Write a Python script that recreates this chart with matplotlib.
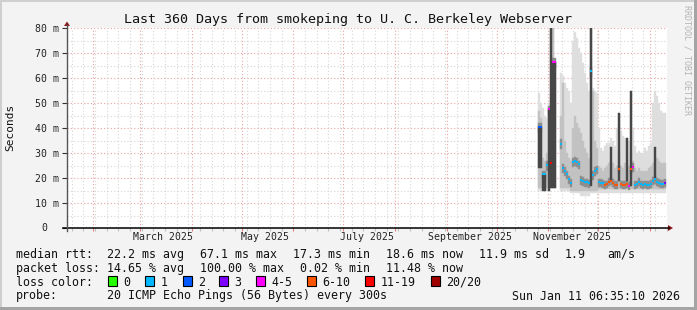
import numpy as np
import matplotlib
matplotlib.use("Agg")
import matplotlib.pyplot as plt
import matplotlib.dates as mdates
from matplotlib.patches import Polygon, Rectangle
from datetime import datetime, timedelta

# ---------------- data ----------------
t_end = datetime(2026, 1, 11, 6, 35, 10)
t_start = t_end - timedelta(days=360)
data_start = datetime(2025, 10, 25, 21, 0)
step_days = 1.2

nan = np.nan
median = [40.5, 40.5, 21.6, 21.6, 25.2, 47.5, 26.1, 66.5, 66.5, nan,
          nan, 33.5, 23.9, 23.0, 21.5, 19.5, 18.0, 26.4, 26.8, 26.4,
          25.5, 19.2, 18.8, 18.3, 18.3, 17.9, 62.9, 21.2, 22.9, 23.5,
          18.3, 18.0, 17.9, 17.2, 17.5, 18.5, 19.0, 18.2, 17.3, 17.3,
          23.6, 17.5, 17.2, 17.2, 17.5, 16.9, 23.5, 24.5, 17.2, 17.5,
          18.4, 17.5, 17.2, 17.5, 17.2, 17.2, 17.8, 19.0, 19.6, 18.5,
          18.0, 17.6, 17.6, 18.2]
loss_class = [2, 2, 1, 1, 1, 4, 6, 4, 4, 0,
              0, 1, 1, 1, 1, 1, 1, 1, 1, 1,
              1, 1, 1, 1, 1, 1, 1, 1, 1, 1,
              1, 1, 1, 5, 5, 5, 5, 5, 5, 5,
              5, 5, 5, 5, 5, 4, 5, 4, 1, 1,
              1, 1, 1, 1, 1, 1, 1, 1, 1, 1,
              1, 1, 1, 3]
light_lo = [15, 15, 15, 15, 15, 15, 16, 16, 16, nan,
            nan, 15, 15, 15, 15, 15, 14, 14, 14, 14,
            14, 13, 13, 13, 13, 13, 14, 14, 14, 14,
            14, 14, 14, 14, 14, 14, 14, 14, 14, 14,
            14, 14, 14, 14, 14, 14, 14, 14, 14, 14,
            14, 14, 14, 14, 14, 14, 14, 14, 14, 14,
            14, 14, 14, 14]
light_hi = [54, 50, 48, 45, 44, 50, 100, 100, 66.5, nan,
            nan, 62, 61, 58, 56, 55, 50, 75, 78.5, 76,
            72, 70, 66, 62, 58, 55, 100, 56, 55, 54,
            40, 32, 31, 33, 34, 34, 36, 35, 33, 40,
            46, 39, 37, 36, 36, 35, 55, 40, 33, 30,
            31, 30, 30, 32, 31, 33, 34, 50, 55, 53,
            50, 47, 46, 46]
mid_lo = [16, 16, 16, 16, 16, 16, 16, 16, 16, nan,
          nan, 16, 16, 16, 16, 16, 15, 15, 15, 15,
          15, 15, 15, 15, 15, 15, 15, 15, 15, 15,
          15.5, 15.5, 15.5, 15.5, 15.5, 15.5, 15.5, 15.5, 15.5, 15.5,
          15.5, 15.5, 15.5, 15.5, 15.5, 15.5, 15.5, 15.5, 15.5, 15.5,
          15.5, 15.5, 15.5, 15.5, 15.5, 15.5, 15.5, 15.5, 15.5, 15.5,
          15.5, 15.5, 15.5, 15.5]
mid_hi = [47, 44, 28, 27, 30, 48, 100, 100, 66.5, nan,
          nan, 45, 58, 35, 30, 28, 27, 40, 45, 42,
          40, 38, 35, 32, 30, 28, 100, 55, 35, 32,
          25, 24, 23, 24, 25, 26, 27, 26, 24, 25,
          30, 25, 24, 26, 26, 25, 30, 27, 24, 23,
          24, 23, 23, 23, 23, 24, 25, 26, 27, 28,
          27, 26, 26, 26]
inner_lo = [38, 38, 19.5, 19.5, 23, 45, 24, 64, 64, nan,
            nan, 31.5, 22, 21, 19.5, 17.5, 16.3, 24.5, 25, 24.5,
            23.5, 17.3, 17, 16.5, 16.5, 16.2, 60, 19.3, 21, 21.5,
            16.5, 16.3, 16.2, 15.6, 15.9, 16.8, 17.2, 16.5, 15.7, 15.7,
            21.5, 15.9, 15.6, 15.6, 15.9, 15.4, 21.5, 22.5, 15.6, 15.9,
            16.7, 15.9, 15.6, 15.9, 15.6, 15.6, 16.1, 17.2, 17.8, 16.8,
            16.3, 16, 16, 16.5]
inner_hi = [42, 42, 23, 23, 27, 49, 28, 68, 68, nan,
            nan, 35.5, 25.5, 24.5, 23, 21, 19.5, 28, 28.5, 28,
            27, 20.7, 20.3, 19.8, 19.8, 19.4, 64.5, 22.7, 24.4, 25,
            19.8, 19.5, 19.4, 18.7, 19, 20, 20.5, 19.7, 18.8, 18.8,
            25.1, 19, 18.7, 18.7, 19, 18.4, 25, 26, 18.7, 19,
            19.9, 19, 18.7, 19, 18.7, 18.7, 19.3, 20.5, 21.1, 20,
            19.5, 19.1, 19.1, 19.7]
spike_lo = [24, 24, 15, 15, nan, 15, 16, 16, 16, nan,
            nan, nan, nan, nan, nan, nan, nan, nan, nan, nan,
            nan, nan, nan, nan, nan, nan, 17, nan, nan, nan,
            nan, nan, nan, nan, nan, nan, 19, nan, nan, nan,
            19, nan, nan, nan, 19, nan, 17, nan, nan, nan,
            nan, nan, nan, nan, nan, nan, nan, nan, 20, nan,
            nan, nan, nan, nan]
spike_hi = [40.5, 40.5, 21.6, 21.6, nan, 47.5, 100, 66.5, 66.5, nan,
            nan, nan, nan, nan, nan, nan, nan, nan, nan, nan,
            nan, nan, nan, nan, nan, nan, 100, nan, nan, nan,
            nan, nan, nan, nan, nan, nan, 32.5, nan, nan, nan,
            46, nan, nan, nan, 36, nan, 55, nan, nan, nan,
            nan, nan, nan, nan, nan, nan, nan, nan, 32.5, nan,
            nan, nan, nan, nan]

loss_labels = ["0", "1", "2", "3", "4-5", "6-10", "11-19", "20/20"]
loss_colors = ["#26ff00", "#00b8ff", "#0059ff", "#7e00ff", "#ff00ff",
               "#ff5500", "#ff0000", "#a10000"]

yticks = [0, 10, 20, 30, 40, 50, 60, 70, 80]
month_labels = ["March 2025", "May 2025", "July 2025", "September 2025", "November 2025"]
month_label_dates = [datetime(2025, 3, 1), datetime(2025, 5, 1), datetime(2025, 7, 1),
                     datetime(2025, 9, 1), datetime(2025, 11, 1)]

title = "Last 360 Days from smokeping to U. C. Berkeley Webserver"
legend_rows = [
    [(16, "median rtt:"), (107.3, "22.2 ms avg"), (200, "67.1 ms max"),
     (293.3, "17.3 ms min"), (386, "18.6 ms now"), (479.3, "11.9 ms sd"),
     (565, "1.9"), (607.3, "am/s")],
    [(16, "packet loss:"), (107.3, "14.65 % avg"), (200, "100.00 % max"),
     (300, "0.02 % min"), (386, "11.48 % now")],
]
probe_text = "20 ICMP Echo Pings (56 Bytes) every 300s"
stamp_text = "Sun Jan 11 06:35:10 2026"

# ---------------- figure ----------------
W, H = 697, 310
fig = plt.figure(figsize=(W / 100, H / 100), dpi=100, facecolor="#f3f3f3")
MONO = "DejaVu Sans Mono"


def fx(x):
    return x / W


def fy(y):
    return 1 - y / H


# frame
fig.patches.append(Rectangle((0, fy(2)), 1, 2 / H, transform=fig.transFigure, color="#cfcfcf", lw=0))
fig.patches.append(Rectangle((0, 0), 2 / W, 1, transform=fig.transFigure, color="#cfcfcf", lw=0))
fig.patches.append(Rectangle((0, 0), 1, 3 / H, transform=fig.transFigure, color="#a4a4a4", lw=0))
fig.patches.append(Rectangle((fx(694), 0), 3 / W, 1, transform=fig.transFigure, color="#a4a4a4", lw=0))

L, R, T, B = 67, 667, 28, 228
ax = fig.add_axes([fx(L), fy(B), (R - L) / W, (B - T) / H])
ax.set_facecolor("white")

x0 = mdates.date2num(t_start)
x1 = mdates.date2num(t_end)
ax.set_xlim(x0, x1)
ax.set_ylim(0, 80)

n = len(median)
xs = np.array([mdates.date2num(data_start + timedelta(days=step_days * k)) for k in range(n + 1)])
left = xs[:-1]
wid = np.diff(xs)


def arr(a):
    return np.array(a, dtype=float)


for lo, hi, col in [(light_lo, light_hi, "#dedede"),
                    (mid_lo, mid_hi, "#c2c2c2"),
                    (inner_lo, inner_hi, "#8e8e8e"),
                    (spike_lo, spike_hi, "#474747")]:
    lo = arr(lo); hi = arr(hi)
    ax.bar(left, hi - lo, bottom=lo, width=wid, align="edge", color=col,
           linewidth=0.3, edgecolor=col, zorder=2)

med = arr(median)
cls = np.array(loss_class)
ok = ~np.isnan(med)
ax.hlines(med[ok], left[ok], xs[1:][ok], colors=[loss_colors[c] for c in cls[ok]],
          lw=1.5, zorder=4)

# grid
ax.xaxis.set_major_locator(mdates.MonthLocator())
ax.xaxis.set_minor_locator(mdates.WeekdayLocator(byweekday=mdates.SU))
ax.xaxis.set_major_formatter(plt.NullFormatter())
ax.set_yticks(yticks)
ax.set_yticks([5, 15, 25, 35, 45, 55, 65, 75], minor=True)
ax.set_yticklabels([("" if v == 0 else f"{v} m") for v in yticks],
                   family=MONO, fontsize=7.1, color="#222222")
ax.grid(which="major", color="#eba3a3", lw=0.8, ls=(0, (1, 2)), zorder=0)
ax.grid(which="minor", color="#d6d6d6", lw=0.8, ls=(0, (1, 2)), zorder=0)
ax.set_axisbelow(True)

ax.tick_params(axis="x", which="major", direction="out", length=2.5, color="#e08080", width=0.8)
ax.tick_params(axis="x", which="minor", direction="out", length=2.5, color="#c0c0c0", width=0.8)
ax.tick_params(axis="y", which="major", direction="out", length=3.5, color="#333333", width=0.8, pad=2.5)
ax.tick_params(axis="y", which="minor", direction="out", length=0)

for s in ["top", "right", "bottom", "left"]:
    ax.spines[s].set_visible(False)

for d, lab in zip(month_label_dates, month_labels):
    ax.text(mdates.date2num(d + timedelta(days=14)), -9.5 / 2.5, lab, ha="center", va="center",
            family=MONO, fontsize=7.1, color="#222222", clip_on=False)
ax.text(-0.033, 0, "0", transform=ax.transAxes, ha="right", va="center",
        family=MONO, fontsize=7.1, color="#222222")

# axis lines & arrows (figure pixel coords)
fig.add_artist(plt.Line2D([fx(63), fx(669)], [fy(228), fy(228)], transform=fig.transFigure,
                          color="black", lw=1.1))
fig.add_artist(plt.Line2D([fx(67), fx(67)], [fy(231), fy(25)], transform=fig.transFigure,
                          color="#555555", lw=1.0))
fig.patches.append(Polygon([[fx(668), fy(225)], [fx(668), fy(231)], [fx(673), fy(228)]],
                           closed=True, transform=fig.transFigure, color="#8b1a1a", lw=0))
fig.patches.append(Polygon([[fx(64), fy(26)], [fx(70), fy(26)], [fx(67), fy(21.5)]],
                           closed=True, transform=fig.transFigure, color="#8b1a1a", lw=0))

# texts
fig.text(fx(348), fy(19), title, ha="center", va="center", family=MONO, fontsize=9.6, color="#111111")
fig.text(fx(10), fy(127), "Seconds", rotation=90, ha="center", va="center", family=MONO,
         fontsize=8.0, color="#111111")
fig.text(fx(687), fy(5), "RRDTOOL / TOBI OETIKER", rotation=270, ha="center", va="top",
         family=MONO, fontsize=6.0, color="#b4b4b4")

row_y = [254.3, 268.3, 282.3, 296]
for ry, row in zip(row_y, legend_rows):
    for x, t in row:
        fig.text(fx(x), fy(ry), t, ha="left", va="center", family=MONO, fontsize=8.4, color="#111111")

fig.text(fx(16), fy(row_y[2]), "loss color:", ha="left", va="center", family=MONO, fontsize=8.4, color="#111111")
box_x = [108.3, 145.3, 182.7, 219.3, 256, 307, 365.3, 430.7]
for bx, lab, col in zip(box_x, loss_labels, loss_colors):
    fig.patches.append(Rectangle((fx(bx), fy(286.3)), 9 / W, 10 / H, transform=fig.transFigure,
                                 facecolor=col, edgecolor="black", lw=0.8))
    fig.text(fx(bx + 15), fy(row_y[2]), lab, ha="left", va="center", family=MONO, fontsize=8.4, color="#111111")

fig.text(fx(16), fy(row_y[3]), "probe:", ha="left", va="center", family=MONO, fontsize=8.4, color="#111111")
fig.text(fx(107.3), fy(row_y[3]), probe_text, ha="left", va="center", family=MONO, fontsize=8.4, color="#111111")
fig.text(fx(680), fy(row_y[3]), stamp_text, ha="right", va="center", family=MONO, fontsize=8.4, color="#111111")

fig.savefig("out.png", dpi=100, facecolor=fig.get_facecolor())
